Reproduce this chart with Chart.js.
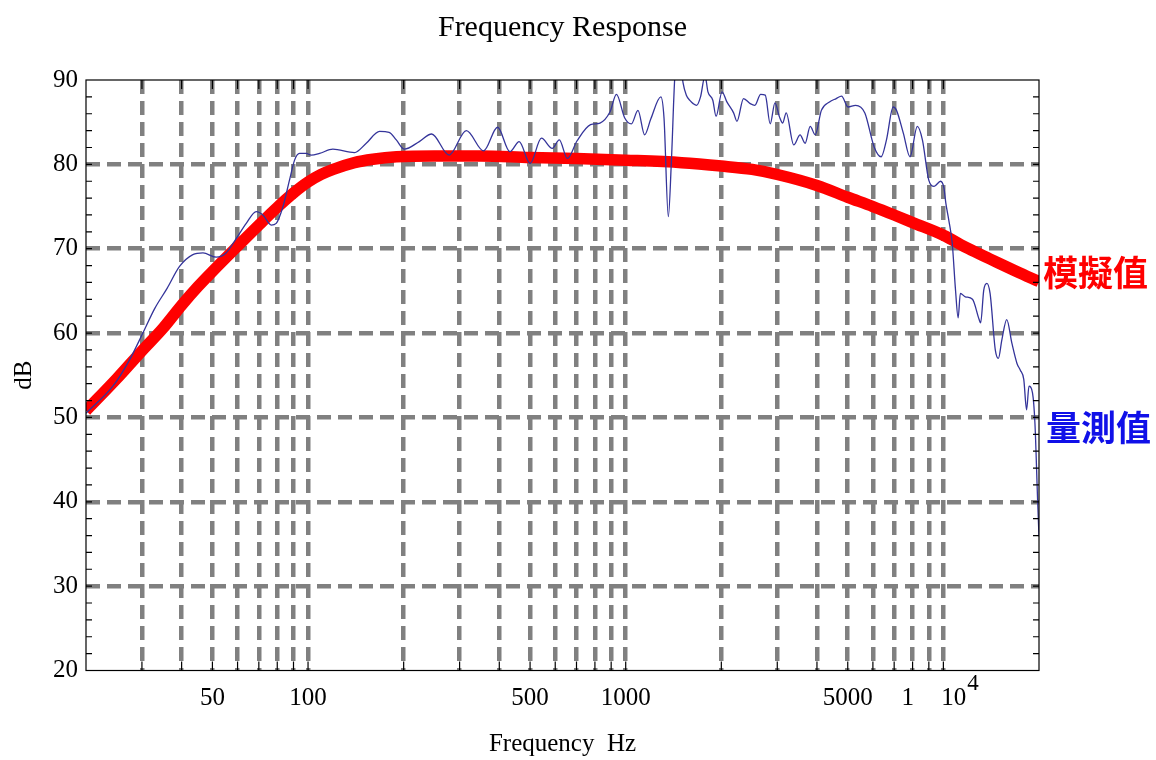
<!DOCTYPE html>
<html>
<head>
<meta charset="utf-8">
<title>Frequency Response</title>
<script src="https://cdn.jsdelivr.net/npm/chart.js@4.4.1/dist/chart.umd.min.js"></script>
<style>
  html, body { margin: 0; padding: 0; background: #ffffff; }
  #wrap { position: relative; width: 1156px; height: 760px; }
</style>
</head>
<body>
<div id="wrap"><canvas id="c"></canvas></div>
<script>
// ---------------- data ----------------
const titleText = 'Frequency Response';
const xTitle = 'Frequency  Hz';
const yTitle = 'dB';
const modelLabel = '模擬值';
const measuredLabel = '量測值';

// measured response (blue, thin)
const measuredFreq = [20,24.3,27.4,30.2,32.9,36,39.4,43.4,46.7,51.4,
  55.2,59.4,63.9,68.7,72.1,76.6,79.4,83.4,87.5,90.7,
  94,98.7,102.3,108.7,119.7,140,152.5,168,180,189.6,
  201,224,245,278,315,357,395,432,462,500,
  543,587,618,655,703,775,830,892,935,993,
  1042,1093,1147,1200,1290,1320,1362,1393,1428,1460,
  1490,1515,1552,1600,1631,1672,1720,1777,1815,1880,
  1925,2010,2082,2186,2240,2349,2466,2550,2660,2750,
  2850,2950,3050,3120,3200,3380,3540,3670,3810,3950,
  4130,4380,4600,4780,5010,5290,5660,6050,6370,6620,
  6950,7120,7480,7850,8280,8590,9000,9350,9800,10040,
  10180,10400,10660,10920,11130,11310,11720,12350,12960,13100,
  13400,13710,14030,14570,14900,15280,15830,16430,17050,17470,
  17910,18280,18600,19080,19420,19800,20000];
const measuredDb = [50.5,53.7,56.8,60.0,62.9,65.3,67.9,69.3,69.5,69.0,
  69.5,71.2,73.0,74.4,74.0,72.8,73.0,75.0,78.2,80.5,
  81.3,81.3,81.1,81.3,81.8,81.4,82.5,83.9,83.8,82.9,
  81.8,82.7,83.6,81.1,84.0,81.6,84.4,81.5,82.7,80.1,
  83.1,81.9,82.9,80.7,82.8,84.7,84.9,86.2,88.3,85.5,
  84.8,86.4,83.5,85.4,88.0,85.5,73.8,80.5,90.5,93.0,
  92.0,89.7,88.2,87.5,87.2,87.0,88.0,90.5,88.6,87.6,
  85.7,88.6,87.4,86.1,85.1,87.8,87.2,87.0,88.3,88.2,
  84.8,87.3,85.6,84.9,86.1,82.3,83.5,82.5,84.5,83.5,
  86.4,87.4,87.8,88.1,86.8,87.0,86.1,82.1,80.9,82.9,
  86.8,86.4,83.7,80.9,84.5,82.9,78.1,77.4,78.0,77.2,
  75.4,73.4,70.7,65.1,61.8,64.7,64.3,64.0,61.6,61.2,
  65.1,65.9,64.7,58.0,57.0,59.2,61.6,58.8,56.4,55.6,
  54.5,50.9,53.7,52.9,49.3,40.2,35.9];

// simulated response (red, thick)
const modelFreq = [20,25,30,35,40,45,50,60,70,80,90,100,110,120,140,160,190,250,350,500,
  700,1000,1500,2000,2500,3000,4000,5000,6000,7000,8000,10000,12000,14000,17000,20000];
const modelDb = [50.8,54.6,57.9,60.6,63.3,65.5,67.3,70.3,72.8,74.9,76.6,77.9,78.8,79.4,80.2,80.6,80.9,81.0,81.0,80.8,
  80.7,80.5,80.2,79.8,79.4,78.8,77.5,76.1,75.0,74.0,73.1,71.6,70.0,68.8,67.3,66.1];

// axes
const xMin = 20, xMax = 20000;
const yMin = 20, yMax = 90, yStep = 10;
const xGridValues = [30,40,50,60,70,80,90,100,200,300,400,500,600,700,800,900,
  1000,2000,3000,4000,5000,6000,7000,8000,9000,10000];
const xTickValues = [20,30,40,50,60,70,80,90,100,200,300,400,500,600,700,800,900,
  1000,2000,3000,4000,5000,6000,7000,7730,8000,9000,10000,20000];
const xTickLabels = {50:'50', 100:'100', 500:'500', 1000:'1000', 5000:'5000', 7730:'1'};
const powerTickValue = 10000, powerBase = '10', powerExp = '4';
const modelLabelDb = 67.2, measuredLabelDb = 48.8;

// ---------------- styles ----------------
const SERIF = "'Liberation Serif', 'Times New Roman', serif";
const CJK = "'Noto Sans CJK TC', 'Noto Sans CJK SC', sans-serif";
const gridGrey = 'rgb(128,128,128)';
const none = 'rgba(0,0,0,0)';

const decor = {
  id: 'decor',
  afterDatasetsDraw(chart) {
    const {ctx, chartArea, scales} = chart;
    const {left, right, top, bottom} = chartArea;
    const x = scales.x, y = scales.y;
    ctx.save();
    ctx.setLineDash([]);
    ctx.strokeStyle = '#000';
    ctx.lineWidth = 1.2;
    ctx.strokeRect(left, top, right - left, bottom - top);
    ctx.beginPath();
    for (let v = yMin + 2; v < yMax; v += 2) {
      const py = y.getPixelForValue(v);
      ctx.moveTo(left, py); ctx.lineTo(left + 6, py);
      ctx.moveTo(right, py); ctx.lineTo(right - 6, py);
    }
    xGridValues.forEach(v => {
      const px = x.getPixelForValue(v);
      ctx.moveTo(px, top); ctx.lineTo(px, top + 9);
      ctx.moveTo(px, bottom); ctx.lineTo(px, bottom - 9);
    });
    ctx.stroke();

    // title
    ctx.fillStyle = '#000';
    ctx.font = '30px ' + SERIF;
    ctx.textAlign = 'center';
    ctx.textBaseline = 'alphabetic';
    ctx.fillText(titleText, (left + right) / 2, 36);

    // 10^4 tick label
    const p4 = x.getPixelForValue(powerTickValue);
    ctx.font = '25px ' + SERIF;
    ctx.textAlign = 'left';
    ctx.fillText(powerBase, p4 - 2, 705);
    const w = ctx.measureText(powerBase).width;
    ctx.font = '23px ' + SERIF;
    ctx.fillText(powerExp, p4 - 1 + w, 690);

    // series labels
    ctx.font = 'bold 35px ' + CJK;
    ctx.textBaseline = 'middle';
    ctx.fillStyle = '#ff0000';
    ctx.fillText(modelLabel, right + 4, y.getPixelForValue(modelLabelDb));
    ctx.fillStyle = '#1010e8';
    ctx.fillText(measuredLabel, right + 7, y.getPixelForValue(measuredLabelDb));
    ctx.restore();
  }
};

const measuredPts = measuredFreq.map((f, i) => ({x: f, y: measuredDb[i]}));
const modelPts = modelFreq.map((f, i) => ({x: f, y: modelDb[i]}));

new Chart(document.getElementById('c'), {
  type: 'line',
  data: {
    datasets: [
      {
        label: measuredLabel,
        data: measuredPts,
        borderColor: '#34349a',
        borderWidth: 1.3,
        pointRadius: 0,
        cubicInterpolationMode: 'monotone',
        fill: false
      },
      {
        label: modelLabel,
        data: modelPts,
        borderColor: '#ff0000',
        borderWidth: 11.5,
        pointRadius: 0,
        cubicInterpolationMode: 'monotone',
        borderJoinStyle: 'round',
        fill: false
      }
    ]
  },
  options: {
    responsive: true,
    maintainAspectRatio: false,
    animation: false,
    events: [],
    layout: { padding: { left: 0, top: 80, right: 117, bottom: 0 } },
    plugins: {
      legend: { display: false },
      tooltip: { enabled: false },
      title: { display: false }
    },
    scales: {
      x: {
        type: 'logarithmic',
        min: xMin, max: xMax,
        afterBuildTicks: (s) => { s.ticks = xTickValues.map(v => ({value: v})); },
        afterFit: (s) => { s.height = 89.5; },
        ticks: {
          autoSkip: false, maxRotation: 0, minRotation: 0,
          padding: 13,
          color: '#000',
          font: { family: SERIF, size: 25 },
          callback: (v) => xTickLabels[v] !== undefined ? xTickLabels[v] : ''
        },
        grid: {
          drawTicks: false,
          lineWidth: 4.5,
          color: (c) => (c.tick && xGridValues.includes(c.tick.value)) ? gridGrey : none
        },
        border: { display: false, dash: [14, 7] },
        title: {
          display: true, text: xTitle, color: '#000',
          font: { family: SERIF, size: 25 },
          padding: { top: 0, bottom: 1 }
        }
      },
      y: {
        type: 'linear',
        min: yMin, max: yMax,
        afterFit: (s) => { s.width = 86; },
        ticks: {
          stepSize: yStep,
          padding: 8,
          color: '#000',
          font: { family: SERIF, size: 25 }
        },
        grid: {
          drawTicks: false,
          lineWidth: 4.5,
          color: (c) => (c.tick && c.tick.value > yMin && c.tick.value < yMax) ? gridGrey : none
        },
        border: { display: false, dash: [14, 7] },
        title: {
          display: true, text: yTitle, color: '#000',
          font: { family: SERIF, size: 25 },
          padding: { top: 9, bottom: 0 }
        }
      }
    }
  },
  plugins: [decor]
});
</script>
</body>
</html>
